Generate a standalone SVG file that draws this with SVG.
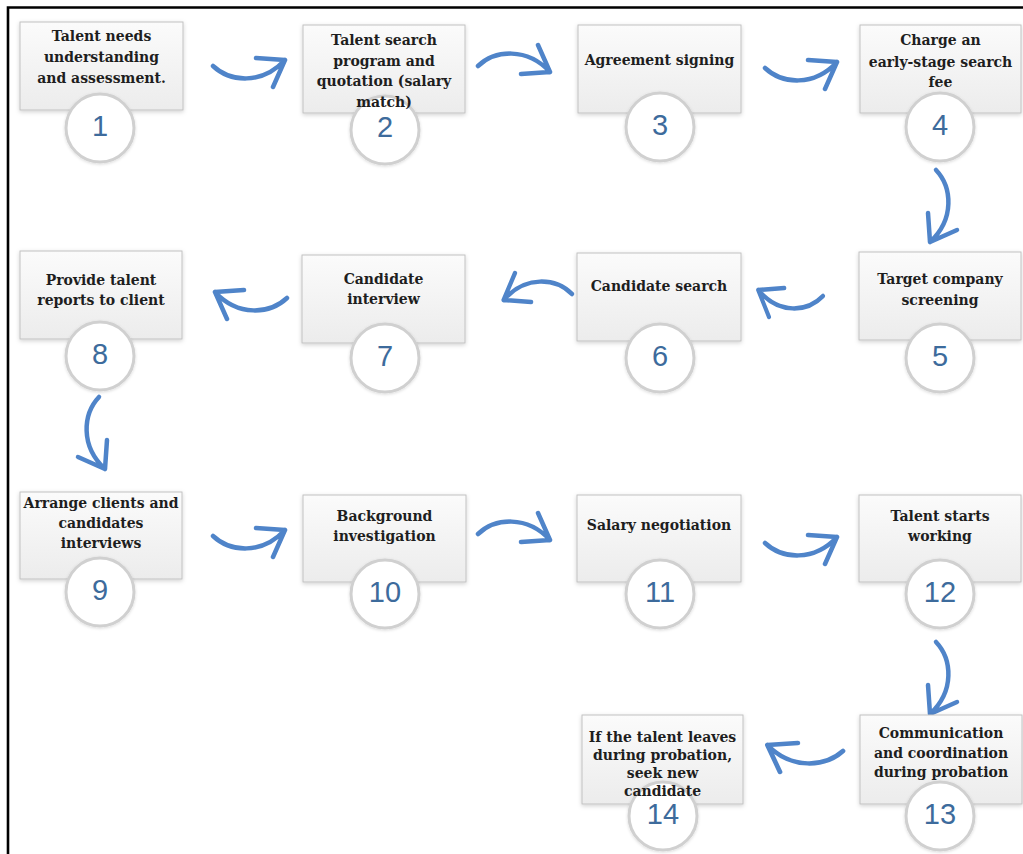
<svg xmlns="http://www.w3.org/2000/svg" width="1023" height="854" viewBox="0 0 1023 854">
<style>
.box{fill:url(#bg);stroke:#c2c2c2;stroke-width:1;filter:url(#sh)}
.ring{fill:#fff;stroke:#d0d0d0;stroke-width:3;filter:url(#sh2)}
.t{font-family:"DejaVu Serif","Liberation Serif",serif;font-weight:bold;font-size:14px;fill:#1e1e1e;text-anchor:middle}
.n{font-family:"Liberation Sans",Arial,sans-serif;font-size:29px;fill:#3d6b9c;text-anchor:middle}
.arr{fill:none;stroke:#4f84c9;stroke-width:4.5;stroke-linecap:round;stroke-linejoin:round}
.frame{stroke:#000;stroke-width:2.6;fill:none}
</style>
<defs>
<linearGradient id="bg" x1="0" y1="0" x2="0" y2="1">
<stop offset="0" stop-color="#fbfbfb"/>
<stop offset="1" stop-color="#ececec"/>
</linearGradient>
<filter id="sh" x="-10%" y="-10%" width="120%" height="130%">
<feDropShadow dx="0" dy="1.5" stdDeviation="2" flood-color="#000" flood-opacity="0.18"/>
</filter>
<filter id="sh2" x="-20%" y="-20%" width="140%" height="140%">
<feDropShadow dx="0" dy="1" stdDeviation="1.5" flood-color="#000" flood-opacity="0.15"/>
</filter>
<path id="aw" d="M0,6 C17,22 49,25 72,0 M72,0 L43,-2 M72,0 L60,27"/>
</defs>
<rect width="1023" height="854" fill="#fff"/>
<path class="frame" d="M8,854 V7.5 H1023"/>

<g id="connectors" class="arr">
<use href="#aw" transform="translate(213,60)"/>
<use href="#aw" transform="translate(478,72) scale(1,-1)"/>
<use href="#aw" transform="translate(765,62)"/>
<use href="#aw" transform="translate(930,170) matrix(0,1,1,0,0,0)"/>
<use href="#aw" transform="translate(823,290) scale(-0.9,1)"/>
<use href="#aw" transform="translate(572,300) scale(-0.95,-1)"/>
<use href="#aw" transform="translate(287,292) scale(-1,1)"/>
<use href="#aw" transform="translate(105,397) rotate(90)"/>
<use href="#aw" transform="translate(213,530)"/>
<use href="#aw" transform="translate(478,540) scale(1,-1)"/>
<use href="#aw" transform="translate(765,537)"/>
<use href="#aw" transform="translate(930,642) matrix(0,1,1,0,0,0)"/>
<use href="#aw" transform="translate(843,745) scale(-1.05,1)"/>
</g>

<g id="node1"><rect class="box" x="20" y="22" width="163" height="88"/>
<text class="t" x="101.5" y="41">Talent needs</text><text class="t" x="101.5" y="62">understanding</text><text class="t" x="101.5" y="83">and assessment.</text>
<circle class="ring" cx="100" cy="128" r="34"/><text class="n" x="100" y="136">1</text></g>

<g id="node2"><rect class="box" x="303" y="25" width="162" height="88"/>
<text class="t" x="384" y="45">Talent search</text><text class="t" x="384" y="65.5">program and</text><text class="t" x="384" y="86">quotation (salary</text>
<circle class="ring" cx="385" cy="130" r="34"/><text class="t" x="384" y="106.5">match)</text><text class="n" x="385" y="137">2</text></g>

<g id="node3"><rect class="box" x="578" y="25" width="163" height="88"/>
<text class="t" x="659.5" y="65">Agreement signing</text>
<circle class="ring" cx="660" cy="127" r="34"/><text class="n" x="660" y="135">3</text></g>

<g id="node4"><rect class="box" x="860" y="25" width="161" height="88"/>
<text class="t" x="940.5" y="45">Charge an</text><text class="t" x="940.5" y="67">early-stage search</text><text class="t" x="940.5" y="87">fee</text>
<circle class="ring" cx="940" cy="127" r="34"/><text class="n" x="940" y="135">4</text></g>

<g id="node5"><rect class="box" x="859" y="252" width="162" height="88"/>
<text class="t" x="940" y="284">Target company</text><text class="t" x="940" y="305">screening</text>
<circle class="ring" cx="940" cy="358" r="34"/><text class="n" x="940" y="366">5</text></g>

<g id="node6"><rect class="box" x="577" y="253" width="164" height="88"/>
<text class="t" x="659" y="291">Candidate search</text>
<circle class="ring" cx="660" cy="358" r="34"/><text class="n" x="660" y="366">6</text></g>

<g id="node7"><rect class="box" x="302" y="255" width="163" height="88"/>
<text class="t" x="383.5" y="284">Candidate</text><text class="t" x="383.5" y="304">interview</text>
<circle class="ring" cx="385" cy="358" r="34"/><text class="n" x="385" y="366">7</text></g>

<g id="node8"><rect class="box" x="20" y="251" width="162" height="88"/>
<text class="t" x="101" y="285">Provide talent</text><text class="t" x="101" y="305">reports to client</text>
<circle class="ring" cx="100" cy="356" r="34"/><text class="n" x="100" y="364">8</text></g>

<g id="node9"><rect class="box" x="20" y="492" width="162" height="87"/>
<text class="t" x="101" y="508">Arrange clients and</text><text class="t" x="101" y="528">candidates</text><text class="t" x="101" y="548">interviews</text>
<circle class="ring" cx="100" cy="592" r="34"/><text class="n" x="100" y="600">9</text></g>

<g id="node10"><rect class="box" x="303" y="495" width="163" height="87"/>
<text class="t" x="384.5" y="521">Background</text><text class="t" x="384.5" y="541">investigation</text>
<circle class="ring" cx="385" cy="594" r="34"/><text class="n" x="385" y="602">10</text></g>

<g id="node11"><rect class="box" x="577" y="495" width="164" height="87"/>
<text class="t" x="659" y="530">Salary negotiation</text>
<circle class="ring" cx="660" cy="594" r="34"/><text class="n" x="660" y="602">11</text></g>

<g id="node12"><rect class="box" x="859" y="495" width="162" height="87"/>
<text class="t" x="940" y="521">Talent starts</text><text class="t" x="940" y="541">working</text>
<circle class="ring" cx="940" cy="594" r="34"/><text class="n" x="940" y="602">12</text></g>

<g id="node13"><rect class="box" x="860" y="715" width="162" height="89"/>
<text class="t" x="941" y="738">Communication</text><text class="t" x="941" y="758">and coordination</text><text class="t" x="941" y="777">during probation</text>
<circle class="ring" cx="940" cy="816" r="34"/><text class="n" x="940" y="824">13</text></g>

<g id="node14"><rect class="box" x="582" y="715" width="161" height="89"/>
<text class="t" x="662.5" y="742">If the talent leaves</text><text class="t" x="662.5" y="760">during probation,</text><text class="t" x="662.5" y="778">seek new</text>
<circle class="ring" cx="663" cy="816" r="34"/><text class="t" x="662.5" y="796">candidate</text><text class="n" x="663" y="824">14</text></g>
</svg>
